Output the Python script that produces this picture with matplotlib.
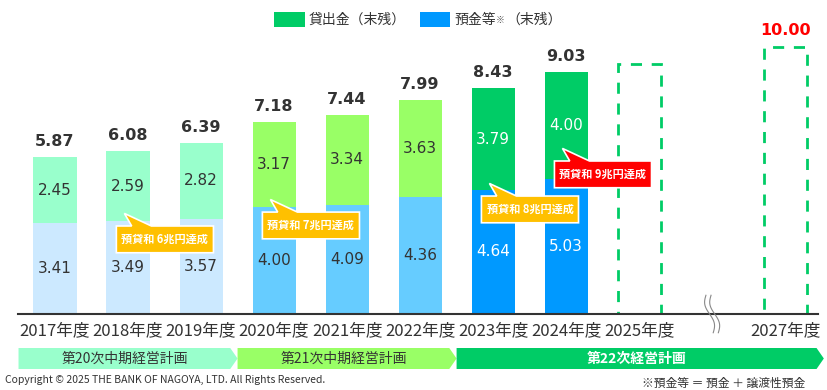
import matplotlib
matplotlib.use("Agg")
import matplotlib.pyplot as plt
from matplotlib.patches import Polygon, Rectangle
import matplotlib.transforms as mtransforms
import numpy as np

plt.rcParams['font.family'] = ['Noto Sans CJK JP', 'DejaVu Sans']

## data
years = ["2017年度", "2018年度", "2019年度", "2020年度", "2021年度", "2022年度",
         "2023年度", "2024年度", "2025年度", "2027年度"]
xpos = [0, 1, 2, 3, 4, 5, 6, 7, 8, 10]
deposits = [3.41, 3.49, 3.57, 4.00, 4.09, 4.36, 4.64, 5.03]
loans = [2.45, 2.59, 2.82, 3.17, 3.34, 3.63, 3.79, 4.00]
totals = [5.87, 6.08, 6.39, 7.18, 7.44, 7.99, 8.43, 9.03]
target_years = [8, 10]
target_values = [9.33, 10.00]

dep_colors = ["#CCE9FF"] * 3 + ["#66CCFF"] * 3 + ["#0099FF"] * 2
loan_colors = ["#99FFCC"] * 3 + ["#99FF66"] * 3 + ["#00CC66"] * 2
val_colors = ["#333333"] * 6 + ["white"] * 2

# callouts: (bar index, text, colour, box top)
callouts = [(1, "預貸和 6兆円達成", "#FFC000", 3.29),
            (3, "預貸和 7兆円達成", "#FFC000", 3.81),
            (6, "預貸和 8兆円達成", "#FFC000", 4.41),
            (7, "預貸和 9兆円達成", "#FF0000", 5.72)]

# plan bands: (label, start, end, colour, text colour, bold)
plans = [("第20次中期経営計画", -0.5, 2.5, "#99FFCC", "#333333", "normal"),
         ("第21次中期経営計画", 2.5, 5.5, "#99FF66", "#333333", "normal"),
         ("第22次経営計画", 5.5, 10.53, "#00CC66", "white", "bold")]

fig = plt.figure(figsize=(8.28, 3.9), dpi=100)
ax = fig.add_axes([18/828, 76/390, 800/828, 314/390])
ax.set_xlim(-0.507, 10.45)
ax.set_ylim(0, 314/26.75)

w = 0.59
n = len(deposits)
ax.bar(xpos[:n], deposits, width=w, color=dep_colors, zorder=2)
ax.bar(xpos[:n], loans, bottom=deposits, width=w, color=loan_colors, zorder=2)

for i in range(n):
    ax.text(xpos[i], deposits[i] / 2, "%.2f" % deposits[i], ha="center", va="center",
            fontsize=11, color=val_colors[i], family="DejaVu Sans", zorder=3)
    ax.text(xpos[i], deposits[i] + loans[i] / 2, "%.2f" % loans[i], ha="center", va="center",
            fontsize=11, color=val_colors[i], family="DejaVu Sans", zorder=3)
    ax.text(xpos[i], totals[i] + 0.3, "%.2f" % totals[i], ha="center", va="bottom",
            fontsize=11.5, fontweight="bold", color="#333333", family="DejaVu Sans")

# target boxes
ax.bar(target_years, target_values, width=w, fill=False, edgecolor="#00CC66",
       linewidth=2, linestyle=(0, (4, 3.5)), zorder=2)
ax.text(10, target_values[1] + 0.3, "%.2f" % target_values[1], ha="center", va="bottom",
        fontsize=11.5, fontweight="bold", color="#FF0000", family="DejaVu Sans")

# callouts
for idx, txt, col, top in callouts:
    x0 = idx - 0.16
    x1 = x0 + 1.33
    bot = top - 1.0
    pts = [(x0, top), (idx + 0.05, top), (idx - 0.05, top + 0.47), (idx + 0.32, top),
           (x1, top), (x1, bot), (x0, bot)]
    ax.add_patch(Polygon(pts, closed=True, facecolor=col, edgecolor="white",
                         linewidth=1.2, zorder=4))
    ax.text((x0 + x1) / 2, (top + bot) / 2, txt, ha="center", va="center",
            fontsize=8, fontweight="bold", color="white", zorder=5)

# axes style
for s in ["top", "right", "left"]:
    ax.spines[s].set_visible(False)
ax.spines["bottom"].set_color("#333333")
ax.spines["bottom"].set_linewidth(1.5)
ax.set_yticks([])
ax.set_xticks(xpos)
ax.set_xticklabels(years, fontsize=12, color="#333333")
ax.tick_params(axis="x", length=0, pad=6)

# axis break mark
t = np.linspace(-1, 1, 30)
for dx in [-0.035, 0.035]:
    ax.plot(9.0 + dx - 0.04 * np.sin(t * np.pi) - 0.05 * t, t * 0.7,
            color="#888888", lw=0.8, clip_on=False, zorder=5)

# plan bands
trans = mtransforms.blended_transform_factory(ax.transData, fig.transFigure)
yb0, yb1 = 21/390, 42/390
for label, xs, xe, col, tcol, wt in plans:
    body = xe - 0.1
    pts = [(xs, yb0), (body, yb0), (xe, (yb0 + yb1) / 2), (body, yb1), (xs, yb1)]
    fig.patches.append(Polygon(pts, closed=True, facecolor=col, edgecolor="none",
                               transform=trans))
    fig.text((xs + body) / 2, (yb0 + yb1) / 2, label, transform=trans, ha="center",
             va="center", fontsize=10, color=tcol, fontweight=wt)

# legend
fig.patches.append(Rectangle((274/828, 1 - 27/390), 31/828, 15/390, facecolor="#00CC66",
                             transform=fig.transFigure))
fig.text(309/828, 1 - 19.5/390, "貸出金（末残）", fontsize=10, va="center", color="#333333")
fig.patches.append(Rectangle((420/828, 1 - 27/390), 30/828, 15/390, facecolor="#0099FF",
                             transform=fig.transFigure))
fig.text(454/828, 1 - 19.5/390, "預金等", fontsize=10, va="center", color="#333333")
fig.text(496/828, 1 - 20.5/390, "※", fontsize=6.5, va="center", color="#555555")
fig.text(506/828, 1 - 19.5/390, "（末残）", fontsize=10, va="center", color="#333333")

# footer
fig.text(5/828, 1 - 380/390, "Copyright © 2025 THE BANK OF NAGOYA, LTD. All Rights Reserved.",
         fontsize=7.5, va="center", color="#333333")
fig.text(805/828, 1 - 383/390, "※預金等 ＝ 預金 ＋ 譲渡性預金", fontsize=8.5, va="center",
         ha="right", color="#333333")

plt.savefig("out.png", dpi=100)
plt.close()
